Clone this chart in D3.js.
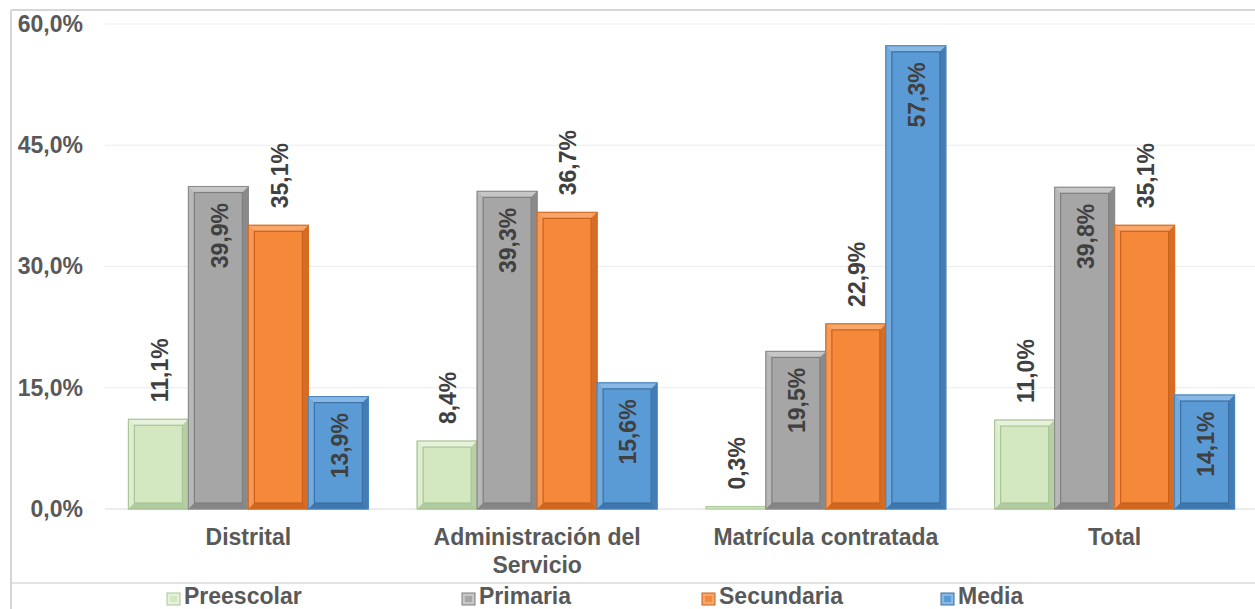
<!DOCTYPE html>
<html>
<head>
<meta charset="utf-8">
<script src="https://cdn.jsdelivr.net/npm/d3@7"></script>
<style>
  body { margin: 0; background: #fff; }
  svg { display: block; font-family: "Liberation Sans", Arial, sans-serif; }
</style>
</head>
<body>
<svg width="1255" height="609"></svg>
<script>
// Data
var categories = ["Distrital", "Administración del Servicio", "Matrícula contratada", "Total"];
var seriesNames = ["Preescolar", "Primaria", "Secundaria", "Media"];
var preescolar = [11.1, 8.4, 0.3, 11.0];
var primaria = [39.9, 39.3, 19.5, 39.8];
var secundaria = [35.1, 36.7, 22.9, 35.1];
var media = [13.9, 15.6, 57.3, 14.1];
var yTicks = [0, 15, 30, 45, 60];

// Styles per series
var palette = [
    { base: "#d3e8c1", light: "#e6f2dc", dark: "#a9c598", edge: "#a8c596" },
    { base: "#a6a6a6", light: "#c6c6c6", dark: "#7f7f7f", edge: "#8c8c8c" },
    { base: "#f6883a", light: "#f9a66a", dark: "#c8621c", edge: "#d96d22" },
    { base: "#5b9bd5", light: "#88b8e3", dark: "#3a70a6", edge: "#4a86c0" }
];
var labelInside = [false, true, false, true];

var svg = d3.select("svg");

var values = [preescolar, primaria, secundaria, media];
var rows = categories.map(function (c, i) {
    return { cat: c, vals: values.map(function (s) { return s[i]; }) };
});

var x0 = d3.scaleBand().domain(categories).range([104, 1259])
    .paddingInner(0.169).paddingOuter(0.0845);
var x1 = d3.scaleBand().domain(seriesNames).range([0, x0.bandwidth()]);
var y = d3.scaleLinear().domain([0, 60]).range([509, 24]);

var fmt = function (v) { return d3.format(".1f")(v).replace(".", ",") + "%"; };

// Outer frame lines
svg.append("line").attr("x1", 11).attr("x2", 1255).attr("y1", 10).attr("y2", 10)
    .attr("stroke", "#d6d6d6").attr("stroke-width", 2);
svg.append("line").attr("x1", 11).attr("x2", 11).attr("y1", 10).attr("y2", 609)
    .attr("stroke", "#d6d6d6").attr("stroke-width", 2);
svg.append("line").attr("x1", 11).attr("x2", 1255).attr("y1", 583).attr("y2", 583)
    .attr("stroke", "#d9d9d9").attr("stroke-width", 1.5);

// Gridlines
svg.append("g").selectAll("line").data(yTicks).enter().append("line")
    .attr("x1", 105).attr("x2", 1255)
    .attr("y1", d => y(d)).attr("y2", d => y(d))
    .attr("stroke", d => d === 0 ? "#d9d9d9" : "#ececec")
    .attr("stroke-width", 1.2);

// Y axis labels
var yAxis = d3.axisLeft(y).tickValues(yTicks).tickSize(0).tickPadding(0)
    .tickFormat(fmt);
var yg = svg.append("g").attr("transform", "translate(83,0)").call(yAxis);
yg.select(".domain").remove();
yg.selectAll("text")
    .attr("font-family", "Liberation Sans, Arial, sans-serif")
    .attr("font-size", "23px").attr("font-weight", "bold")
    .attr("fill", "#595959");

// Bars with bevel
function drawBar(g, bx, by, w, h, col) {
    var ins = Math.min(6, h / 4);
    g.append("rect").attr("x", bx).attr("y", by).attr("width", w).attr("height", h)
        .attr("fill", col.base).attr("stroke", col.edge).attr("stroke-width", 1);
    if (h < 8) return;
    var xl = bx, xr = bx + w, yt = by, yb = by + h;
    var il = xl + ins, ir = xr - ins, it = yt + ins, ib = yb - ins;
    // top
    g.append("polygon").attr("points", [[xl, yt], [xr, yt], [ir, it], [il, it]].join(" "))
        .attr("fill", col.light);
    // left
    g.append("polygon").attr("points", [[xl, yt], [il, it], [il, ib], [xl, yb]].join(" "))
        .attr("fill", col.light).attr("opacity", 0.55);
    // right
    g.append("polygon").attr("points", [[xr, yt], [xr, yb], [ir, ib], [ir, it]].join(" "))
        .attr("fill", col.dark).attr("opacity", 0.7);
    // bottom
    g.append("polygon").attr("points", [[xl, yb], [xr, yb], [ir, ib], [il, ib]].join(" "))
        .attr("fill", col.dark).attr("opacity", 0.85);
    g.append("rect").attr("x", il).attr("y", it).attr("width", ir - il).attr("height", ib - it)
        .attr("fill", col.base).attr("stroke", col.dark).attr("stroke-width", 1.2);
    g.append("rect").attr("x", bx).attr("y", by).attr("width", w).attr("height", h)
        .attr("fill", "none").attr("stroke", col.edge).attr("stroke-width", 1);
}

var groups = svg.append("g").selectAll("g").data(rows).enter().append("g")
    .attr("transform", d => "translate(" + x0(d.cat) + ",0)");

groups.each(function (d) {
    var g = d3.select(this);
    d.vals.forEach(function (v, i) {
        var bx = x1(seriesNames[i]);
        var w = x1.bandwidth();
        drawBar(g.append("g"), bx, y(v), w, y(0) - y(v), palette[i]);
    });
});

// Data labels
groups.each(function (d) {
    var g = d3.select(this);
    d.vals.forEach(function (v, i) {
        var cx = x1(seriesNames[i]) + x1.bandwidth() / 2 + 1;
        var inside = labelInside[i];
        var ly = inside ? y(v) + 16.5 : y(v) - 17;
        g.append("text")
            .attr("transform", "translate(" + cx + "," + ly + ") rotate(-90)")
            .attr("text-anchor", inside ? "end" : "start")
            .attr("dy", "0.36em")
            .attr("font-size", "23px").attr("font-weight", "bold")
            .attr("fill", "#404040")
            .text(fmt(v));
    });
});

// Category labels
var catLines = {
    "Administración del Servicio": ["Administración del", "Servicio"]
};
categories.forEach(function (c) {
    var lines = catLines[c] || [c];
    var t = svg.append("text")
        .attr("x", x0(c) + x0.bandwidth() / 2)
        .attr("y", 545)
        .attr("text-anchor", "middle")
        .attr("font-size", "23px").attr("font-weight", "bold")
        .attr("fill", "#595959");
    lines.forEach(function (l, k) {
        t.append("tspan").attr("x", x0(c) + x0.bandwidth() / 2)
            .attr("dy", k === 0 ? 0 : 28).text(l);
    });
});

// Legend
var legendX = [167, 462, 702, 941];
var legend = svg.append("g").selectAll("g").data(seriesNames).enter().append("g")
    .attr("transform", (d, i) => "translate(" + legendX[i] + ",593)");
legend.each(function (d, i) {
    var g = d3.select(this);
    var col = palette[i];
    g.append("rect").attr("x", 0).attr("y", 0).attr("width", 13).attr("height", 12)
        .attr("fill", col.light).attr("stroke", col.dark).attr("stroke-width", 1);
    g.append("rect").attr("x", 3).attr("y", 3).attr("width", 7).attr("height", 6)
        .attr("fill", col.base);
    g.append("text").attr("x", 17).attr("y", 11)
        .attr("font-size", "23px").attr("font-weight", "bold")
        .attr("fill", "#595959").text(d);
});
</script>
</body>
</html>
